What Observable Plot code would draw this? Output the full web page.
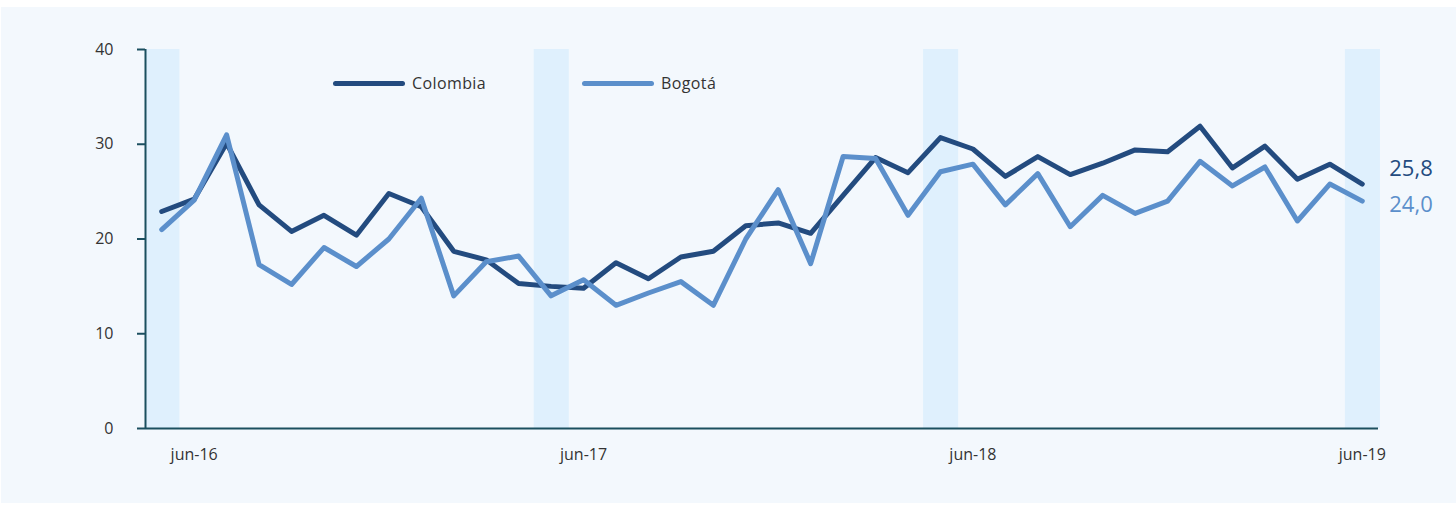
<!DOCTYPE html>
<html>
<head>
<meta charset="utf-8">
<script src="https://cdn.jsdelivr.net/npm/d3@7"></script>
<script src="https://cdn.jsdelivr.net/npm/@observablehq/plot@0.6"></script>
<style>
  html, body { margin: 0; padding: 0; background: #ffffff; }
  #wrap { position: relative; width: 1456px; height: 507px; overflow: hidden; font-family: "Open Sans", sans-serif; }
  #bg { position: absolute; left: 1px; top: 7px; width: 1455px; height: 496px; background: #f3f8fd; }
  #chart { position: absolute; left: 0; top: 0; }
  .leg { position: absolute; top: 72px; height: 22px; display: flex; align-items: center; font-size: 16px; color: #333; letter-spacing: 0.4px; }
  .leg .sw { width: 72px; height: 5px; border-radius: 3px; margin-right: 7px; }
</style>
</head>
<body>
<div id="wrap">
  <div id="bg"></div>
  <div id="chart"></div>
  <div id="legend"></div>
</div>
<script>
// months may-16 .. jun-19
const months = ["may-16","jun-16","jul-16","ago-16","sep-16","oct-16","nov-16","dic-16",
  "ene-17","feb-17","mar-17","abr-17","may-17","jun-17","jul-17","ago-17","sep-17","oct-17","nov-17","dic-17",
  "ene-18","feb-18","mar-18","abr-18","may-18","jun-18","jul-18","ago-18","sep-18","oct-18","nov-18","dic-18",
  "ene-19","feb-19","mar-19","abr-19","may-19","jun-19"];
const colombia = [22.9,24.2,30.1,23.6,20.8,22.5,20.4,24.8,23.4,18.7,17.8,15.3,15.0,14.8,
  17.5,15.8,18.1,18.7,21.4,21.7,20.6,24.6,28.6,27.0,30.7,29.5,26.6,28.7,26.8,28.0,29.4,29.2,
  31.9,27.5,29.8,26.3,27.9,25.8];
const bogota = [21.0,24.1,31.0,17.3,15.2,19.1,17.1,20.0,24.3,14.0,17.6,18.2,14.0,15.7,
  13.0,14.3,15.5,13.0,20.0,25.2,17.4,28.7,28.5,22.5,27.1,27.9,23.6,26.9,21.3,24.6,22.7,24.0,
  28.2,25.6,27.6,21.9,25.8,24.0];
const seriesNames = ["Colombia", "Bogotá"];
const seriesColors = ["#234b7f", "#5b8fcb"];
const tickLabels = ["jun-16","jun-17","jun-18","jun-19"];
const bandMonths = ["may-16","may-17","may-18","jun-19"];
const yTicks = [0,10,20,30,40];

const rows = [];
months.forEach((m, i) => {
  rows.push({i, month: m, series: seriesNames[0], value: colombia[i]});
  rows.push({i, month: m, series: seriesNames[1], value: bogota[i]});
});
const bands = bandMonths.map(m => ({i: months.indexOf(m)}));
const n = months.length;
const lastCol = [{i: n - 1, value: colombia[n - 1], series: seriesNames[0]}];
const lastBog = [{i: n - 1, value: bogota[n - 1], series: seriesNames[1]}];
const tickIdx = tickLabels.map(t => months.indexOf(t));
const fmt = v => v.toFixed(1).replace(".", ",");

const chart = Plot.plot({
  width: 1456,
  height: 507,
  marginLeft: 145,
  marginRight: 78,
  marginTop: 49,
  marginBottom: 79,
  style: { background: "transparent", fontFamily: "'Open Sans', sans-serif", fontSize: "16px", color: "#333" },
  x: { domain: [-0.5, n - 0.5], label: null },
  y: { domain: [0, 40], label: null },
  color: { domain: seriesNames, range: seriesColors },
  marks: [
    Plot.rect(bands, { x1: d => Math.max(-0.47, d.i - 0.52), x2: d => d.i + 0.56, y1: 0, y2: 40, fill: "#dff0fd" }),
    Plot.ruleY([0], { x1: -0.5, x2: n - 0.5, stroke: "#1b4f5f", strokeWidth: 2 }),
    Plot.ruleX([-0.5], { y1: 0, y2: 40, stroke: "#1b4f5f", strokeWidth: 2 }),
    Plot.axisY({ ticks: yTicks, tickSize: 8, tickPadding: 24, stroke: "#1b4f5f", strokeWidth: 2, text: null, label: null }),
    Plot.axisY({ ticks: yTicks, tickSize: 0, tickPadding: 32, label: null, fontSize: 16, fill: "#333", stroke: null }),
    Plot.axisX({ ticks: tickIdx, tickFormat: i => months[i], tickSize: 0, tickPadding: 20, label: null, fontSize: 16, fill: "#333" }),
    Plot.line(rows, { x: "i", y: "value", z: "series", stroke: "series", strokeWidth: 5, strokeLinecap: "round", strokeLinejoin: "round" }),
    Plot.text(lastCol, { x: "i", y: "value", text: d => fmt(d.value), fill: seriesColors[0], textAnchor: "start", dx: 27, dy: -15, fontSize: 22 }),
    Plot.text(lastBog, { x: "i", y: "value", text: d => fmt(d.value), fill: seriesColors[1], textAnchor: "start", dx: 27, dy: 4, fontSize: 22 })
  ]
});
document.getElementById("chart").appendChild(chart);

// legend
const leg = document.getElementById("legend");
const legPos = [333, 582];
seriesNames.forEach((s, k) => {
  const el = document.createElement("div");
  el.className = "leg";
  el.style.left = legPos[k] + "px";
  el.innerHTML = `<span class="sw" style="background:${seriesColors[k]}"></span><span>${s}</span>`;
  leg.appendChild(el);
});
</script>
</body>
</html>
